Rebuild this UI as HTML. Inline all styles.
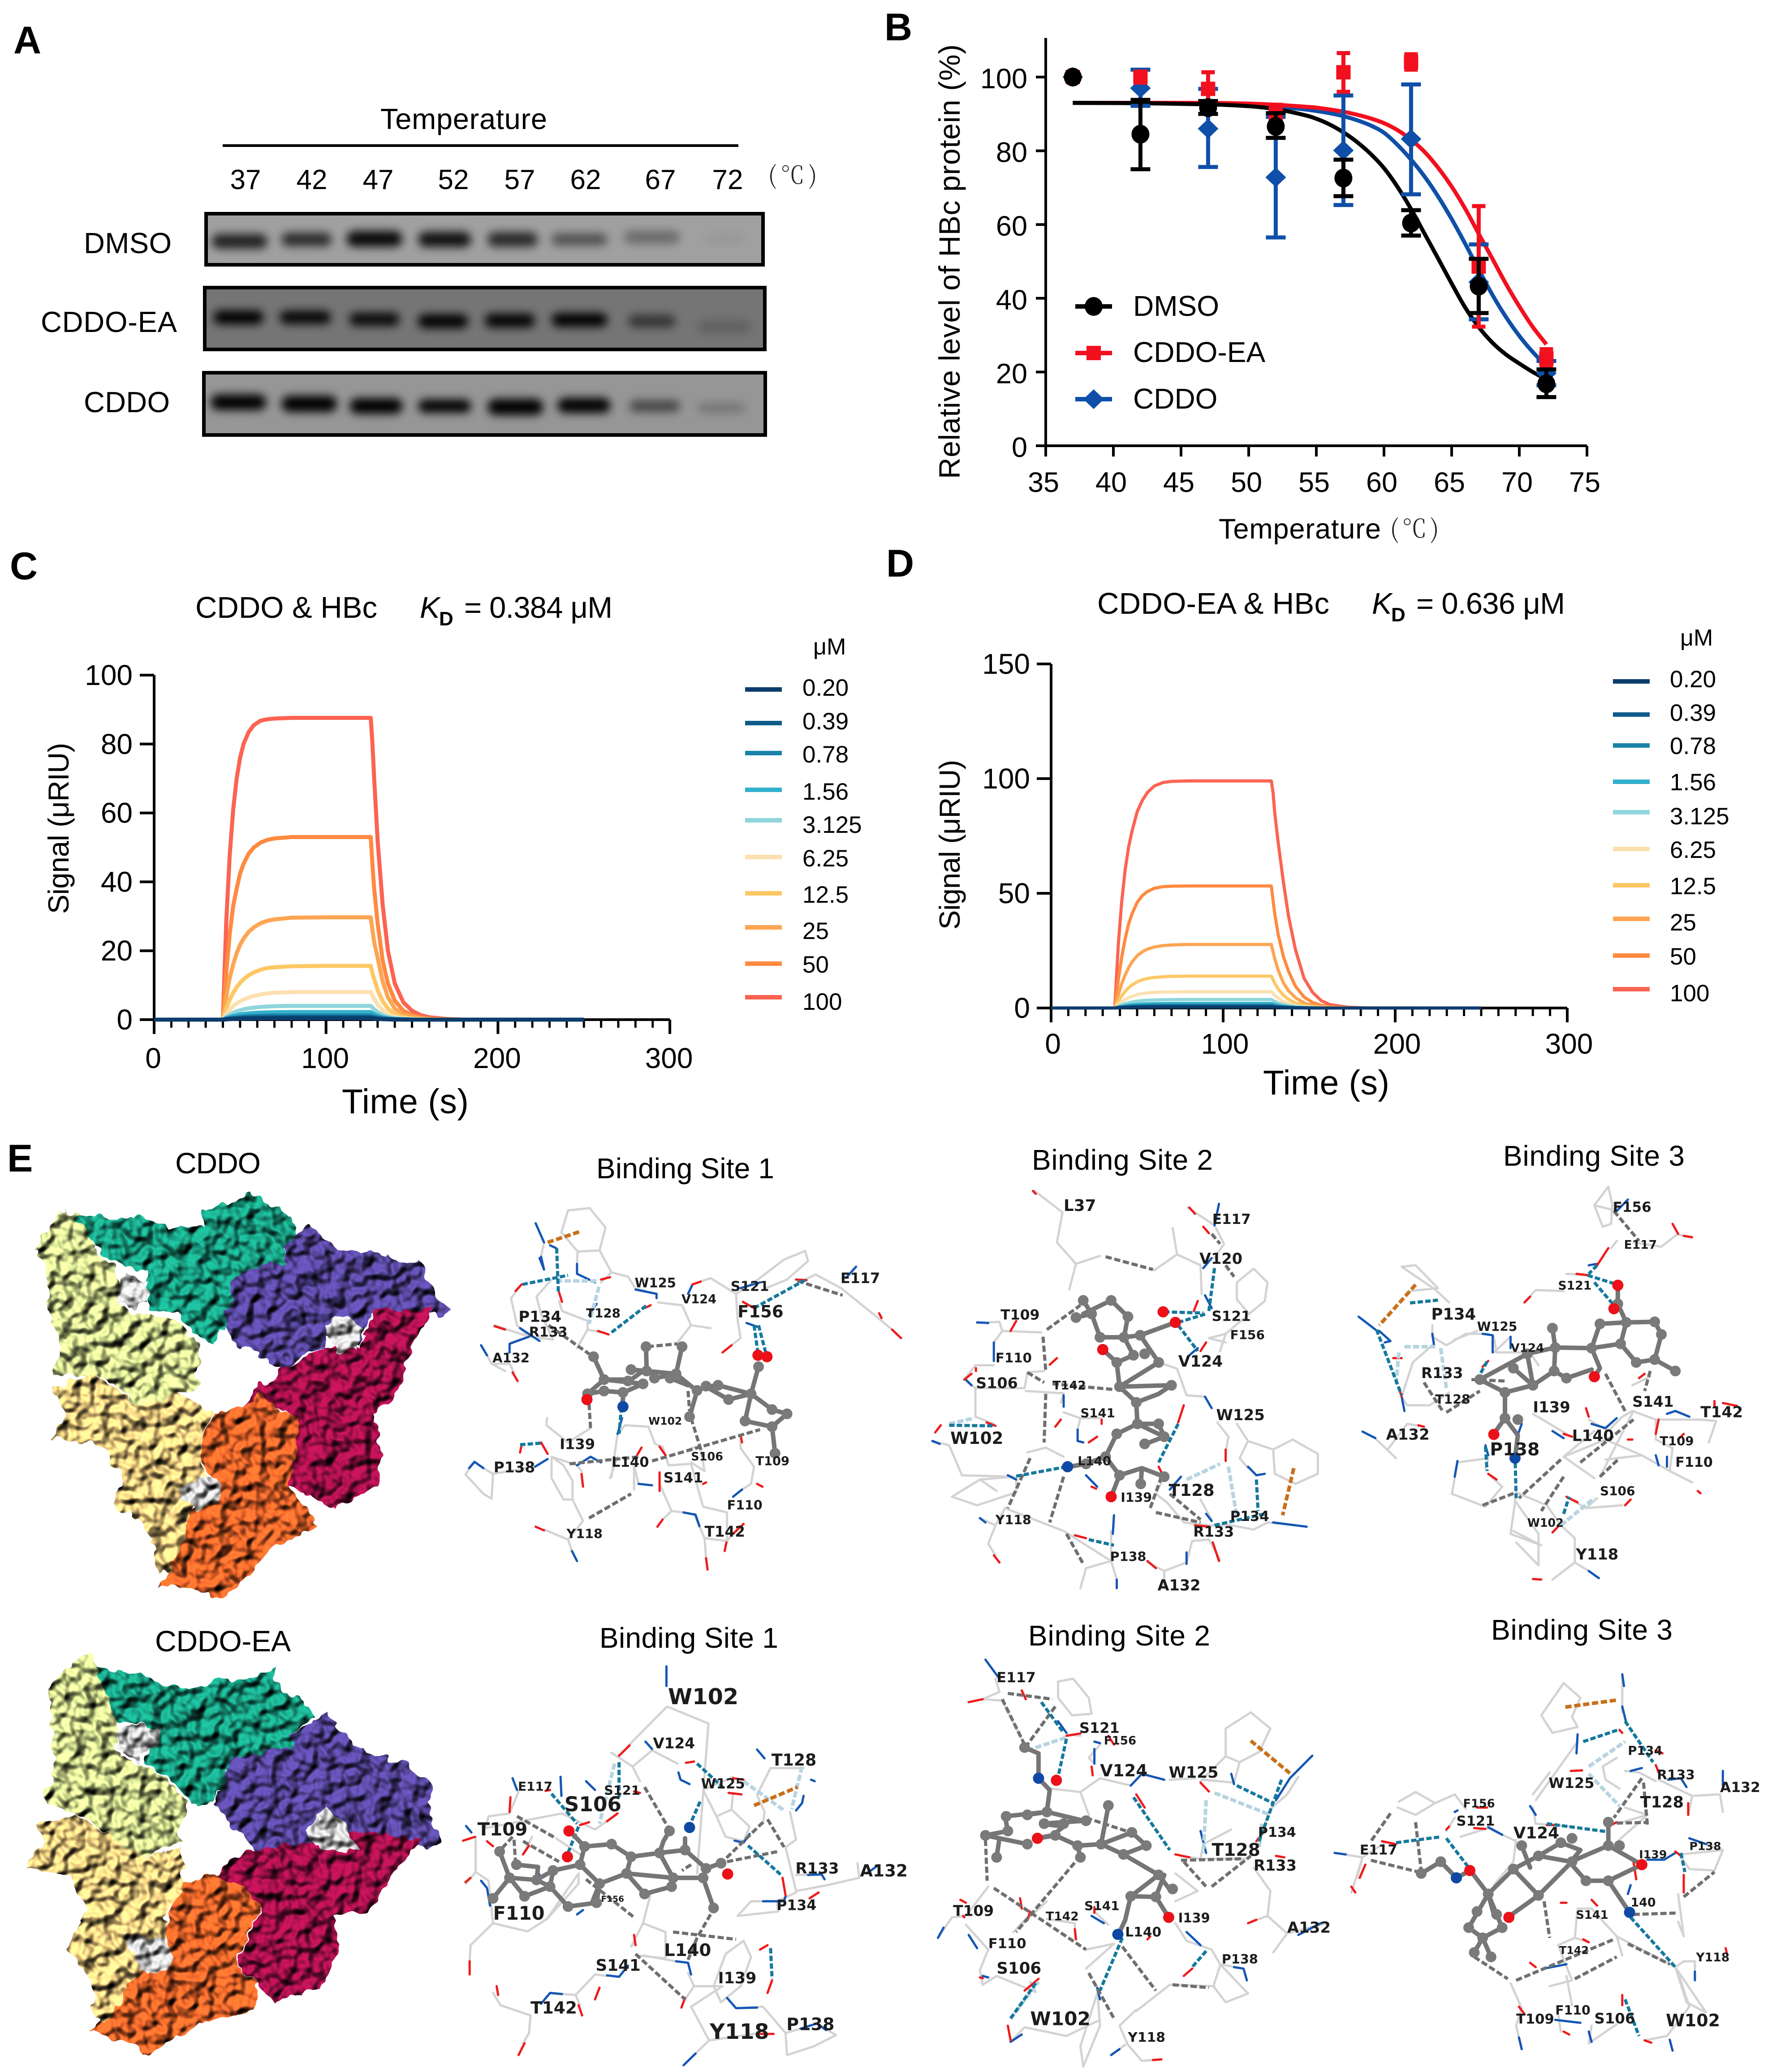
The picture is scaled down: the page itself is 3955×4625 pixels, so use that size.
<!DOCTYPE html>
<html lang="en">
<head>
<meta charset="utf-8">
<title>HBc binding figure</title>
<style>
html,body{margin:0;padding:0;background:#fff;}
svg{display:block;font-family:"Liberation Sans","Noto Sans CJK SC",sans-serif;}
.pl{font-weight:700;font-size:86px;fill:#000;}
.t{font-size:64px;fill:#000;}
.cj{font-family:"Noto Serif CJK SC","Liberation Serif",serif;font-weight:300;fill:#222;}
</style>
</head>
<body>
<svg id="fig" xmlns="http://www.w3.org/2000/svg" width="3955" height="4625" viewBox="0 0 3955 4625">
<defs>
<filter id="blur" x="-40%" y="-100%" width="180%" height="300%"><feGaussianBlur stdDeviation="10"/></filter>
<filter id="bumps" x="-6%" y="-6%" width="112%" height="112%" color-interpolation-filters="sRGB">
<feTurbulence type="fractalNoise" baseFrequency="0.034" numOctaves="2" seed="11" result="n"/>
<feDisplacementMap in="SourceGraphic" in2="n" scale="30" xChannelSelector="R" yChannelSelector="G" result="d"/>
<feGaussianBlur in="n" stdDeviation="3" result="nb"/>
<feDiffuseLighting in="nb" surfaceScale="26" lighting-color="#ffffff" result="l"><feDistantLight azimuth="235" elevation="58"/></feDiffuseLighting>
<feComposite in="l" in2="d" operator="arithmetic" k1="1.22" k2="0" k3="0" k4="0"/>
</filter>
</defs>
<rect width="3955" height="4625" fill="#fff"/>

<text class="pl" x="30" y="119">A</text>
<text class="pl" x="1974" y="90">B</text>
<text class="pl" x="22" y="1293">C</text>
<text class="pl" x="1978" y="1287">D</text>
<text class="pl" x="16" y="2615">E</text>

<text class="t" x="849" y="288" font-size="65" textLength="372" style="font-size:65px">Temperature</text>
<rect x="497" y="322" width="1151" height="6" fill="#000"/>
<text class="cj" x="1714" y="410" style="font-size:54px" textLength="110">( ℃ )</text>
<text class="t" x="187" y="565" style="font-size:65px" textLength="196">DMSO</text>
<text class="t" x="91" y="741" style="font-size:65px" textLength="304">CDDO-EA</text>
<text class="t" x="187" y="920" style="font-size:65px" textLength="192">CDDO</text>
<g id="blots"></g>

<g id="chartB"></g>
<text class="t" x="2720" y="1202" style="font-size:63px" textLength="362">Temperature</text>
<text class="cj" x="3102" y="1200" style="font-size:56px" textLength="110">( ℃ )</text>
<text class="t" transform="translate(2142,1069) rotate(-90)" style="font-size:66px" textLength="970">Relative level of HBc protein (%)</text>

<text class="t" x="436" y="1379" style="font-size:67px" textLength="406">CDDO &amp; HBc</text>
<text class="t" x="937" y="1379" style="font-size:67px;font-style:italic">K</text>
<text class="t" x="980" y="1396" style="font-size:44px;font-weight:700">D</text>
<text class="t" x="1036" y="1379" style="font-size:67px" textLength="331">= 0.384 μM</text>
<text class="t" transform="translate(153,2040) rotate(-90)" style="font-size:65px" textLength="382">Signal (μRIU)</text>
<text class="t" x="763" y="2485" style="font-size:77px" textLength="283">Time (s)</text>
<text class="t" x="1815" y="1461" style="font-size:52px">μM</text>
<g id="chartC"></g>

<text class="t" x="2449" y="1370" style="font-size:67px" textLength="518">CDDO-EA &amp; HBc</text>
<text class="t" x="3062" y="1370" style="font-size:67px;font-style:italic">K</text>
<text class="t" x="3105" y="1387" style="font-size:44px;font-weight:700">D</text>
<text class="t" x="3161" y="1370" style="font-size:67px" textLength="332">= 0.636 μM</text>
<text class="t" transform="translate(2142,2075) rotate(-90)" style="font-size:65px" textLength="379">Signal (μRIU)</text>
<text class="t" x="2819" y="2443" style="font-size:77px" textLength="282">Time (s)</text>
<text class="t" x="3750" y="1441" style="font-size:52px">μM</text>
<g id="chartD"></g>

<text class="t" x="391" y="2619" style="font-size:66px" textLength="191">CDDO</text>
<text class="t" x="346" y="3686" style="font-size:66px" textLength="303">CDDO-EA</text>
<g id="proteins"></g>
<g id="sites"></g>
<text class="t" x="1331" y="2630" textLength="397">Binding Site 1</text>
<text class="t" x="2303" y="2611" textLength="404">Binding Site 2</text>
<text class="t" x="3355" y="2602" textLength="405">Binding Site 3</text>
<text class="t" x="1338" y="3678" textLength="399">Binding Site 1</text>
<text class="t" x="2295" y="3673" textLength="406">Binding Site 2</text>
<text class="t" x="3328" y="3660" textLength="405">Binding Site 3</text>
</svg>

<script>
/* ---------- Panel B data ---------- */
const tempsB=[37,42,47,52,57,62,67,72];
const dmsoMean=[100,84.5,91.7,86.6,72.6,60.4,43.3,16.8];
const dmsoLow=[100,75,90,83.5,67.7,57,36,13.2];
const dmsoHigh=[100,93.8,93.5,90.2,77.6,63.9,50.7,20.7];
const eaMean=[100,100,96.8,90,101.3,104.1,48.6,23.7];
const eaLow=[100,98.5,92.5,88,96,102,32.3,21.2];
const eaHigh=[100,101.5,101.3,92.5,106.5,106.2,65,26.2];
const cddoMean=[100,97,86,72.8,80.1,83.2,44.4,19.7];
const cddoLow=[100,92.2,75.6,56.5,65.3,68.2,34.3,16.4];
const cddoHigh=[100,102,96.8,89.2,95,98,54.6,23];
const fitTemps=[37,42,47,50,52,54,55,56,57,58,59,60,61,62,63,64,65,66,67,68,69,70,71,72];
const fitDmso=[93,92.9,92.6,92.1,91.3,89.8,88.7,87.1,85,82.4,79.2,75.3,70.2,64.2,57.5,50.8,44,37.5,32.2,28,24.8,22.3,20,18];
const fitCddo=[93,93,92.8,92.5,92,91.3,90.8,90.2,89.4,88.3,86.9,84.9,81.6,77.6,73,67.6,61.5,54.8,47.8,41,35,29.8,25.4,21.7];
const fitEa=[93,93,93,92.8,92.5,92,91.7,91.2,90.6,89.8,88.8,87.5,85.6,83,79.7,75.4,70.3,64.3,57.5,50.8,44,37.8,32.2,27.5];
const ticksBx=[35,40,45,50,55,60,65,70,75];
const ticksBy=[0,20,40,60,80,100];

/* ---------- Panel C data ---------- */
const timeC=[0,40,42,44,46,48,50,52,55,58,62,66,70,80,100,126,127,128,130,133,136,140,145,150,155,160,170,180,250];
const c100=[0,0,29,48,61,70,76,80,83.5,85.5,86.8,87.2,87.4,87.6,87.6,87.6,80,70,52,33,20,10.5,5,2.6,1.3,.7,.2,0,0];
const c50=[0,0,14,25,33,38,42.4,45.2,48.2,50,51.4,52.2,52.6,53,53,53,45,38,28,17,10.5,5.5,2.6,1.3,.7,.3,.1,0,0];
const c25=[0,0,6.8,12.2,16,19.3,21.7,23.5,25.5,26.8,28,28.7,29.1,29.6,29.7,29.7,26,22.5,18,11,6.5,3.2,1.5,.8,.4,.2,0,0,0];
const c12p5=[0,0,3.3,5.8,7.8,9.4,10.7,11.7,12.9,13.7,14.5,15,15.2,15.5,15.6,15.6,13.5,11.8,8.6,5.3,3.2,1.6,.7,.35,.2,.1,0,0,0];
const c6p25=[0,0,1.6,2.9,3.9,4.7,5.3,5.8,6.4,6.9,7.3,7.6,7.8,8,8,8,7,6,4.4,2.7,1.6,.8,.35,.2,.1,0,0,0,0];
const c3p125=[0,0,.8,1.4,2,2.4,2.7,3,3.3,3.5,3.7,3.8,3.9,4,4,4,3.5,3,2.2,1.3,.8,.4,.2,.1,0,0,0,0,0];
const c1p56=[0,0,.45,.8,1.1,1.3,1.5,1.65,1.8,1.95,2.05,2.1,2.15,2.2,2.2,2.2,1.9,1.65,1.2,.7,.45,.2,.1,0,0,0,0,0,0];
const c0p78=[0,0,.25,.45,.6,.7,.8,.9,1,1.05,1.1,1.15,1.2,1.2,1.2,1.2,1.05,.9,.65,.4,.25,.1,.05,0,0,0,0,0,0];
const c0p39=[0,0,.15,.25,.35,.4,.47,.52,.58,.62,.65,.67,.68,.7,.7,.7,.6,.52,.38,.23,.14,.07,.03,0,0,0,0,0,0];
const c0p20=[0,0,.08,.15,.2,.24,.27,.3,.33,.35,.37,.38,.39,.4,.4,.4,.35,.3,.22,.13,.08,.04,.02,0,0,0,0,0,0];

/* ---------- Panel D data ---------- */
const timeD=[0,37,39,41,43,45,47,50,53,56,60,65,70,80,100,128,129,130,132,135,138,142,147,152,157,162,172,182,250];
const d100=[0,0,27,46,60,70,77,85.5,90.5,94,96.8,98.3,98.8,99,99,99,94,85,72,55,40,25.5,13,6.8,3.2,1.5,.4,.05,0];
const d50=[0,0,12,22,30,36.5,41,46,49,50.8,52.2,52.9,53.1,53.2,53.2,53.2,47,41,32,22.5,16,9.5,4.8,2.4,1.2,.5,.1,0,0];
const d25=[0,0,5.5,10.5,14.3,17.5,20,22.8,24.5,25.7,26.6,27.2,27.5,27.7,27.7,27.7,24.5,21.5,16.5,11,7.5,4.5,2.2,1.1,.5,.2,0,0,0];
const d12p5=[0,0,2.8,5.3,7.2,8.8,10,11.4,12.3,12.9,13.3,13.6,13.8,13.9,13.9,13.9,12.3,10.8,8.3,5.5,3.8,2.2,1.1,.5,.25,.1,0,0,0];
const d6p25=[0,0,1.4,2.7,3.7,4.5,5.1,5.8,6.3,6.6,6.8,7,7,7.1,7.1,7.1,6.3,5.5,4.2,2.8,1.9,1.1,.55,.25,.1,0,0,0,0];
const d3p125=[0,0,.7,1.4,1.9,2.3,2.6,3,3.25,3.4,3.5,3.6,3.65,3.7,3.7,3.7,3.3,2.9,2.2,1.5,1,.6,.3,.1,0,0,0,0,0];
const d1p56=[0,0,.4,.75,1,1.25,1.4,1.6,1.75,1.85,1.9,1.95,2,2,2,2,1.8,1.55,1.2,.8,.55,.3,.15,.05,0,0,0,0,0];
const d0p78=[0,0,.25,.45,.6,.75,.85,.95,1.05,1.1,1.15,1.18,1.2,1.2,1.2,1.2,1.05,.9,.7,.5,.33,.18,.09,.03,0,0,0,0,0];
const d0p39=[0,0,.15,.27,.35,.44,.5,.55,.6,.64,.67,.69,.7,.7,.7,.7,.62,.54,.41,.29,.19,.1,.05,.02,0,0,0,0,0];
const d0p20=[0,0,.08,.15,.2,.25,.28,.32,.35,.37,.38,.39,.4,.4,.4,.4,.35,.31,.24,.16,.11,.06,.03,.01,0,0,0,0,0];

const concLabels=['0.20','0.39','0.78','1.56','3.125','6.25','12.5','25','50','100'];
const concColors=['#0b3c6b','#0e5a8a','#1b82a8','#33b0cd','#8fd6dc','#fde0b0','#fdc864','#fda552','#fe8a40','#fc6352'];
const seriesC=[c0p20,c0p39,c0p78,c1p56,c3p125,c6p25,c12p5,c25,c50,c100];
const seriesD=[d0p20,d0p39,d0p78,d1p56,d3p125,d6p25,d12p5,d25,d50,d100];
const ticksCy=[0,20,40,60,80,100];
const ticksDy=[0,50,100,150];
const ticksTime=[0,100,200,300];

/* ---------- Panel A band strength per lane ---------- */
const laneLabels=['37','42','47','52','57','62','67','72'];
const bandDmso=[.8,.75,.95,.9,.75,.5,.34,.05];
const bandEa=[1,.95,.92,1,.97,1,.55,.16];
const bandCddo=[1,1,1,1,1,1,.55,.24];

const NS='http://www.w3.org/2000/svg';
function E(parent,tag,attrs,name){
  const el=document.createElementNS(NS,tag);
  for(const k in attrs){el.setAttribute(k,attrs[k]);}
  
  
  parent.appendChild(el);
  return el;
}
function Tx(parent,str,x,y,size,anchor,name,extra){
  const a=Object.assign({x:x,y:y,'font-size':size,'text-anchor':anchor||'start',fill:'#000'},extra||{});
  const el=E(parent,'text',a,name);
  el.textContent=str;
  return el;
}

/* ---------- Panel A ---------- */
(function(){
  const g=document.getElementById('blots');
  const lanePx=[548,696,844,1012,1160,1307,1474,1624];
  laneLabels.forEach((l,i)=>Tx(g,l,lanePx[i],422,62,'middle','lane-label-'+l));
  const blots=[
   {n:'dmso',x:456,y:473,w:1251,h:122,bg:'#a0a0a0',bands:bandDmso,
    cx:[430,550,672,798,920,1040,1170,1300],cy:[768,762,760,762,762,762,755,760],bw:[100,90,100,95,90,100,100,70],bh:[46,42,50,48,46,38,40,30]},
   {n:'cddo-ea',x:453,y:638,w:1258,h:146,bg:'#757575',bands:bandEa,
    cx:[428,548,672,795,915,1040,1170,1300],cy:[1010,1010,1016,1022,1020,1018,1022,1040],bw:[90,92,90,90,90,100,85,95],bh:[44,42,42,44,44,44,40,44]},
   {n:'cddo',x:451,y:828,w:1261,h:147,bg:'#969696',bands:bandCddo,
    cx:[428,555,675,798,925,1048,1175,1295],cy:[1280,1285,1292,1292,1295,1290,1292,1298],bw:[100,100,95,95,100,95,90,85],bh:[50,52,50,42,52,48,36,28]}
  ];
  blots.forEach((b,k)=>{
    E(g,'rect',{x:b.x,y:b.y,width:b.w,height:b.h,fill:b.bg},'blot-background-'+b.n);
    b.bands.forEach((v,i)=>{
      const w=b.bw[i]*1.2436,h=b.bh[i]*.7015,cx=b.cx[i]*1.2436,cy=b.cy[i]*.7015;
      E(g,'rect',{x:cx-w/2,y:cy-h/2,width:w,height:h,rx:h/2,fill:'#000',opacity:v,filter:'url(#blur)'},'band-'+b.n+'-'+laneLabels[i]);
    });
    E(g,'rect',{x:b.x+4,y:b.y+4,width:b.w-8,height:b.h-8,fill:'none',stroke:'#000','stroke-width':8},'blot-frame-'+b.n);
  });
})();

/* ---------- Panel B ---------- */
function xB(t){return 2334+(t-35)*30.2;}
function yB(v){return 995-v*8.23;}
function smooth(pts){
  let d='M'+pts[0][0]+' '+pts[0][1];
  for(let i=0;i<pts.length-1;i++){
    const p0=pts[Math.max(i-1,0)],p1=pts[i],p2=pts[i+1],p3=pts[Math.min(i+2,pts.length-1)];
    d+=' C'+(p1[0]+(p2[0]-p0[0])/6)+' '+(p1[1]+(p2[1]-p0[1])/6)+' '+(p2[0]-(p3[0]-p1[0])/6)+' '+(p2[1]-(p3[1]-p1[1])/6)+' '+p2[0]+' '+p2[1];
  }
  return d;
}
function marker(g,kind,x,y,color,name){
  if(kind==='circle'){E(g,'ellipse',{cx:x,cy:y,rx:20,ry:21,fill:color},name);}
  else if(kind==='square'){E(g,'rect',{x:x-16,y:y-16,width:32,height:32,fill:color},name);}
  else{E(g,'polygon',{points:(x-23)+','+y+' '+x+','+(y-22)+' '+(x+23)+','+y+' '+x+','+(y+22),fill:color},name);}
}
(function(){
  const g=document.getElementById('chartB');
  E(g,'path',{d:'M'+xB(35)+' '+yB(110.6)+'V'+yB(0)+'H'+xB(75),fill:'none',stroke:'#000','stroke-width':6},'axes-b');
  ticksBx.forEach(t=>{
    E(g,'line',{x1:xB(t),x2:xB(t),y1:yB(0),y2:yB(0)+24,stroke:'#000','stroke-width':6},'x-tick-'+t);
    Tx(g,String(t),xB(t)-5,1098,63,'middle','x-tick-label-'+t);
  });
  ticksBy.forEach(v=>{
    E(g,'line',{x1:xB(35),x2:xB(35)-22,y1:yB(v),y2:yB(v),stroke:'#000','stroke-width':6},'y-tick-'+v);
    Tx(g,String(v),2293,yB(v)+25,63,'end','y-tick-label-'+v);
  });
  const groups=[
   {n:'cddo',c:'#0f4fa8',k:'diamond',cap:22,fit:fitCddo,m:cddoMean,lo:cddoLow,hi:cddoHigh},
   {n:'cddo-ea',c:'#f2101f',k:'square',cap:15,fit:fitEa,m:eaMean,lo:eaLow,hi:eaHigh},
   {n:'dmso',c:'#000000',k:'circle',cap:22,fit:fitDmso,m:dmsoMean,lo:dmsoLow,hi:dmsoHigh}
  ];
  groups.forEach(s=>{
    const pts=fitTemps.map((t,i)=>[xB(t),yB(s.fit[i])]);
    E(g,'path',{d:smooth(pts),fill:'none',stroke:s.c,'stroke-width':9},'fit-curve-'+s.n);
  });
  groups.forEach(s=>{
    tempsB.forEach((t,i)=>{
      const x=xB(t);
      if(s.hi[i]!==s.lo[i]){
        E(g,'path',{d:'M'+(x-s.cap)+' '+yB(s.hi[i])+'H'+(x+s.cap)+'M'+x+' '+yB(s.hi[i])+'V'+yB(s.lo[i])+'M'+(x-s.cap)+' '+yB(s.lo[i])+'H'+(x+s.cap),fill:'none',stroke:s.c,'stroke-width':9},'error-bar-'+s.n+'-'+t);
      }
      marker(g,s.k,x,yB(s.m[i]),s.c,'point-'+s.n+'-'+t);
    });
  });
  const lg=[['DMSO','#000','circle',684,705],['CDDO-EA','#f2101f','square',788,808],['CDDO','#0f4fa8','diamond',891,912]];
  lg.forEach(r=>{
    E(g,'rect',{x:2400,y:r[3]-5,width:82,height:10,fill:r[1]},'legend-line-'+r[0].toLowerCase());
    marker(g,r[2],2441,r[3],r[1],'legend-marker-'+r[0].toLowerCase());
    Tx(g,r[0],2529,r[4],64,'start','legend-label-'+r[0].toLowerCase());
  });
})();

/* ---------- Panels C and D ---------- */
function drawSpr(id,cfg,times,series,yTicks){
  const g=document.getElementById(id);
  const x=t=>cfg.x0+t*cfg.pxPerS;
  const y=v=>cfg.y0-v*cfg.pxPerU;
  E(g,'path',{d:'M'+x(0)+' '+y(cfg.ymax)+'V'+y(0)+'H'+x(300),fill:'none',stroke:'#000','stroke-width':6},id+'-axes');
  for(let t=0;t<=300;t+=10){
    const major=t%100===0;
    E(g,'line',{x1:x(t),x2:x(t),y1:y(0),y2:y(0)+(major?32:18),stroke:'#000','stroke-width':major?6:5},id+'-x-tick-'+t);
  }
  ticksTime.forEach(t=>{Tx(g,String(t),x(t)+cfg.xLabelDx,cfg.xLabelY,64,'middle',id+'-x-tick-label-'+t);});
  yTicks.forEach(v=>{
    E(g,'line',{x1:x(0),x2:x(0)-32,y1:y(v),y2:y(v),stroke:'#000','stroke-width':6},id+'-y-tick-'+v);
    Tx(g,String(v),cfg.yLabelX,y(v)+22,64,'end',id+'-y-tick-label-'+v);
  });
  for(let s=series.length-1;s>=0;s--){
    const vals=series[s];
    const d=times.map((t,i)=>(i?'L':'M')+x(t)+' '+y(vals[i])).join(' ');
    E(g,'path',{d:d,fill:'none',stroke:concColors[s],'stroke-width':cfg.lw,'stroke-linejoin':'round'},id+'-curve-'+concLabels[s]);
  }
  concLabels.forEach((l,i)=>{
    E(g,'rect',{x:cfg.lgX,y:cfg.lgY[i]-5,width:82,height:10,fill:concColors[i]},id+'-legend-line-'+l);
    Tx(g,l,cfg.lgTx,cfg.lgBase[i],53,'start',id+'-legend-label-'+l);
  });
}
drawSpr('chartC',{x0:344,pxPerS:3.837,y0:2276,pxPerU:7.69,ymax:100,xLabelDx:-2,xLabelY:2384,yLabelX:296,lw:9,lgX:1663,lgTx:1791,
  lgY:[1539,1614,1681,1763,1831,1913,1994,2070,2151,2226],lgBase:[1553,1628,1702,1785,1859,1934,2015,2096,2171,2254]},timeC,seriesC,ticksCy);
drawSpr('chartD',{x0:2346,pxPerS:3.84,y0:2250,pxPerU:5.12,ymax:150,xLabelDx:4,xLabelY:2352,yLabelX:2299,lw:7,lgX:3600,lgTx:3727,
  lgY:[1521,1595,1664,1745,1813,1895,1976,2051,2133,2208],lgBase:[1534,1609,1683,1764,1840,1915,1996,2077,2153,2235]},timeD,seriesD,ticksDy);

/* ---------- Protein surfaces ---------- */
(function(){
  const g=E(document.getElementById('proteins'),'g',{filter:'url(#bumps)'},'protein-surface-group');
  const m=s=>s.trim().split(/\s+/).map(p=>{const a=p.split(',');return (a[0]*.7015).toFixed(1)+','+(2500+a[1]*1.355).toFixed(1);}).join(' ');
  const P={
   'green':'#d8e494','teal':'#1aa588','purple':'#5a49a2','crimson':'#ab114e','orange':'#f56a2c','sand':'#f8d686','grey':'#cfcfcf'
  };
  const top=[
   ['green','110,210 190,150 250,155 300,215 370,240 380,310 470,320 560,330 640,370 620,430 650,430 520,460 440,470 330,420 160,420 195,380 150,290 145,235'],
   ['teal','245,160 330,160 480,160 540,180 640,175 650,150 770,130 800,118 830,130 940,165 940,190 900,210 915,235 860,235 760,260 740,300 720,330 720,345 690,345 680,370 640,360 560,320 480,310 470,290 470,250 370,235 300,210'],
   ['purple','900,205 985,175 1080,215 1180,215 1290,235 1340,225 1360,265 1425,310 1410,325 1380,320 1180,320 1150,370 1040,360 1030,375 950,390 900,410 860,400 790,375 770,385 740,360 715,330 745,260 850,235 915,235'],
   ['crimson','1190,315 1370,310 1310,380 1270,450 1180,480 1210,530 1210,560 1195,605 1090,630 1060,640 1000,620 915,600 945,520 945,490 880,475 770,470 850,430 910,405 1030,375 1150,375'],
   ['orange','770,470 830,450 890,480 950,490 940,555 920,605 1010,670 880,700 760,770 700,790 620,770 500,770 540,740 590,690 600,650 690,610 640,550 670,490'],
   ['sand','170,445 300,415 440,470 560,450 640,470 670,480 640,550 660,590 600,650 590,690 540,745 500,745 490,690 420,650 355,635 390,590 330,535 170,525 210,490'],
   ['grey','365,270 400,250 480,270 470,300 410,310 380,300'],
   ['grey','1025,345 1070,320 1165,340 1130,380 1090,385'],
   ['grey','560,610 610,590 695,590 695,625 620,650']
  ];
  const bottom=[
   ['green','150,935 230,895 290,875 310,905 370,990 380,1050 520,1080 600,1125 570,1170 580,1190 450,1215 350,1180 270,1150 130,1120 175,1085 165,1000 155,950'],
   ['teal','300,900 440,915 600,940 700,925 800,915 870,905 900,945 985,960 990,985 930,1010 930,1035 800,1050 720,1075 740,1080 680,1120 620,1130 530,1080 460,1060 510,1000 370,990'],
   ['purple','930,1010 1040,975 1150,1040 1300,1060 1370,1095 1370,1140 1405,1190 1370,1200 1130,1175 1000,1190 830,1205 800,1195 720,1150 685,1125 750,1050 930,1035'],
   ['crimson','1145,1170 1345,1185 1250,1240 1170,1305 1060,1310 1080,1360 1020,1430 870,1455 810,1420 755,1385 830,1300 680,1245 780,1205 970,1190'],
   ['orange','680,1245 770,1260 830,1295 750,1385 810,1420 815,1465 640,1490 460,1540 410,1520 290,1500 400,1440 430,1410 520,1360 540,1300 570,1255'],
   ['sand','120,1160 240,1145 350,1180 450,1215 580,1200 580,1260 520,1310 540,1350 430,1410 400,1440 340,1490 300,1480 295,1420 210,1365 280,1300 230,1250 90,1230 135,1195'],
   ['grey','372,1010 420,995 510,1000 510,1025 460,1040 440,1060 390,1045'],
   ['grey','970,1170 1040,1130 1090,1155 1140,1200 1020,1205'],
   ['grey','400,1345 440,1345 540,1350 545,1390 470,1405 420,1380']
  ];
  top.forEach((r,i)=>{E(g,'polygon',{points:m(r[1]),fill:P[r[0]]},'cddo-protein-chain-'+r[0]+'-'+i);});
  bottom.forEach((r,i)=>{E(g,'polygon',{points:m(r[1]),fill:P[r[0]]},'cddo-ea-protein-chain-'+r[0]+'-'+i);});
})();

/* ---------- Binding-site interaction diagrams ---------- */
const EM={W:1.103,V:.774,S:.72,E:.683,T:.682,F:.683,P:.733,R:.77,A:.774,I:.372,L:.637,Y:.724};
function drawSite(name,ox,oy,sx,sy,d){
  const g=E(document.getElementById('sites'),'g',{},name);
  const path=s=>s.split(';').map(poly=>poly.trim().split(/\s+/).map((p,i)=>{
    const a=p.split(',');return (i?'L':'M')+(ox+a[0]*sx).toFixed(1)+' '+(oy+a[1]*sy).toFixed(1);}).join('')).join('');
  const draw=(s,stroke,w,dash,n)=>{
    if(!s)return;
    const at={d:path(s),fill:'none',stroke:stroke,'stroke-width':w,'stroke-linecap':dash?'butt':'round','stroke-linejoin':'round'};
    if(dash){at['stroke-dasharray']=dash;}
    E(g,'path',at,name+'-'+n);
  };
  draw(d.gray,'#d3d3d3',5,null,'residue-bonds');
  draw(d.blue,'#1457b4',5,null,'nitrogen-bonds');
  draw(d.red,'#ee1c1c',5,null,'oxygen-bonds');
  draw(d.dg,'#6f6f6f',7,'14 6','hydrophobic-contacts');
  draw(d.lt,'#b8d4e0',8,'14 5','weak-hbonds');
  draw(d.tl,'#15799c',7,'12 5','hydrogen-bonds');
  draw(d.or,'#c8701a',8,'14 6','pi-contact');
  draw(d.lig,'#757575',10,null,'ligand-bonds');
  const balls=(s,c,r,n)=>{
    s.trim().split(/\s+/).forEach((p,i)=>{
      const a=p.split(',');
      E(g,'circle',{cx:ox+a[0]*sx,cy:oy+a[1]*sy,r:r,fill:c},name+'-'+n+'-atom-'+i);
    });
  };
  balls(d.balls,'#7a7a7a',12,'carbon');
  balls(d.redB,'#ec1018',12.5,'oxygen');
  balls(d.blueB,'#0f49a3',12.5,'nitrogen');
  d.labels.forEach(l=>{
    const w=(l[2]-l[1])*sx;
    let em=0;
    for(const ch of l[0]){em+=EM[ch]||.696;}
    const el=E(g,'text',{x:ox+l[1]*sx,y:oy+l[3]*sy,'font-size':(w/em).toFixed(1),'font-weight':'700','font-family':'"DejaVu Sans",sans-serif',fill:'#1c1c1c',textLength:w.toFixed(1)},name+'-label-'+l[0]);
    el.textContent=l[0];
  });
}

drawSite('cddo-site-1',1000,2550,.6696,.6378,{
 gray:'400,238 472,230 525,298 505,378 432,382 378,315 400,238;505,378 545,455 600,470 625,512 660,520;432,382 430,425;320,350 310,400;345,480 295,540 310,600 350,690 270,680 230,640 210,545 245,497;380,590 465,625 465,655 430,720;380,590 370,555;465,655 510,665;545,455 510,490;700,560 780,570 810,640 765,700;810,640 875,650;815,497 875,475 960,530 965,620 975,685 945,710;960,530 1020,490 1120,410 1190,380 1200,415 1130,480 1060,510;1190,480 1225,462 1310,510 1440,620 1480,655;155,640 270,680;210,700 270,680;130,745 145,775 190,800;145,775 205,775 220,805;330,965 328,990 400,1050 475,1000;58,1162 88,1118;58,1162 118,1230 145,1247 150,1160 118,1140;150,1160 290,1135;345,1100 430,1130 445,1150;345,1100 385,1130 415,1185 415,1250 450,1325;345,1100 345,1175 385,1250 415,1250;450,1325 400,1390 320,1355;400,1390 413,1430;565,1020 590,990 668,995 690,1055 715,1065;565,1020 545,1170 540,1175 565,1100;715,1065 735,1130 810,1125 850,1275 930,1295 930,1395 855,1385 820,1300;800,1075 840,1060 855,1150 810,1120;620,1130 620,1215;620,1130 635,1195;705,1195 745,1290 715,1320;745,1290 785,1295;855,1385 860,1455;930,1395 950,1370;975,1040 975,1070 1020,1135 1010,1195 980,1215',
 blue:'292,283 320,350;340,360 360,370;310,400 320,445 305,405;430,425 430,460 490,490;625,515 695,530 695,545;815,497 800,530;1040,490 975,510;995,632 1030,645;1360,435 1330,470;495,565 470,605;270,680 205,705 205,735;240,650 305,695;110,710 130,745;70,1140 88,1118 118,1140;290,1135 332,1108;430,1130 475,1100 510,1120;635,1195 680,1200;785,1295 825,1303 838,1343;413,1430 430,1465;950,1240 980,1215;565,1020 580,965',
 red:'225,520 245,497;370,525 380,558;510,480 540,472;500,660 535,672;655,580 675,570;815,497 842,487;983,558 1020,580;915,735 945,710;1160,480 1195,482;1437,598 1445,615;1480,655 1510,685;155,643 190,655;215,805 232,835;240,1085 245,1060;310,1050 332,1090;445,1160 450,1205;630,1095 645,1068;705,1065 725,1095;705,1155 705,1220;715,1320 698,1345;975,1025 980,1050;860,1190 850,1195;1030,1195 1048,1205;292,1345 320,1358;860,1455 865,1495;985,1335 950,1370;928,1400 922,1430',
 tl:'248,497 400,465;362,370 368,530;660,572 545,665;1020,580 1190,482;1020,640 1032,730;1035,640 1060,740;580,900 570,1020;240,1058 315,1052',
 lt:'360,485 500,485;503,505 470,635',
 dg:'665,715 765,705;335,640 470,740;470,915 475,1000;1165,485 1315,535;800,870 805,940;810,965 850,1100;405,1125 640,1100;680,1115 1040,1005;470,1315 610,1230',
 or:'332,350 440,312',
 lig:'485,750 520,830;520,830 610,830 650,800 610,795 660,800 760,810 830,870 860,855 900,850 1010,880;520,830 465,880 520,870 585,875 650,845 520,830;660,715 662,800;780,715 760,810;690,825 760,810;740,825 800,850;830,870 805,960;860,855 935,900 1010,880 990,975 1080,995 1130,950 1080,935 1010,880;1080,995 1090,1088;1010,880 1035,785;583,875 583,925;463,880 463,900',
 balls:'485,750 660,715 780,715 520,830 610,795 662,800 688,825 760,810 740,825 600,835 650,845 520,870 465,880 583,875 830,868 860,853 900,850 935,900 1010,880 1035,785 805,960 990,975 1080,995 1130,950 1080,935 1090,1088',
 redB:'1033,745 1063,750 463,900',blueB:'583,925',
 labels:[['W125',622,760,507],['V124',778,895,563],['S121',942,1070,520],['F156',965,1118,612],['E117',1308,1440,492],['T128',460,575,612],['P134',235,378,628],['R133',270,398,680],['A132',148,272,770],['W102',668,780,988],['S106',810,917,1113],['I139',372,490,1073],['T109',1025,1138,1130],['L140',545,670,1135],['P138',152,290,1155],['S141',718,850,1190],['F110',930,1048,1285],['T142',855,990,1380],['Y118',395,515,1385]]
});

drawSite('cddo-site-2',2000,2550,1.2468,.6378,{
 gray:'248,170 298,245 288,350 322,425 365,397;322,425 310,515;462,448 503,392 495,300;503,392 545,430 547,530;522,228 570,290 587,355 570,405;640,442 665,490 660,555 632,600 610,550 610,490 640,442;632,600 590,670 560,685 590,700;590,670 580,730;503,792 520,885 553,890;503,792 470,770 445,690;145,632 185,628 190,660 260,665;190,660 175,700;175,780 142,780 122,830 142,860 142,960 175,985;142,860 230,860;230,860 235,805 265,800;232,870 300,878 295,910;300,945 330,965 365,965;330,965 325,1005;65,1045 95,1060 118,1165 210,1170 150,1180 100,1240 145,1270 215,1225 215,1170;150,1180 180,1220;268,1068 300,1100;268,1068 235,1085;150,1315 178,1340 165,1405 178,1445;178,1340 195,1280 300,1360;385,1465 340,1490 330,1560;385,1465 395,1530;385,1360 385,1465;385,1465 300,1360;575,980 595,1030 590,1085;610,985 630,1045 675,1075 710,1040 755,1090 755,1160 715,1195 678,1160 675,1075;630,1045 615,1105 630,1140;590,1085 590,1115;480,1170 465,1230 485,1260 515,1330 560,1340 600,1340 640,1355 665,1330 735,1345;545,1250 565,1320;530,1395 560,1390 580,1460;530,1395 520,1470 480,1500 450,1470;480,1500 480,1560',
 blue:'145,630 165,632;175,700 175,765;125,830 135,850;65,1045 78,1055;300,885 300,925;325,1005 325,1045 335,1050;150,1315 160,1330;200,1165 215,1180;340,1165 360,1205;390,1305 388,1370;395,1530 395,1560;510,1170 490,1215;553,890 565,930;630,1135 645,1165 660,1160;555,1300 565,1325;675,1330 735,1345;520,1435 520,1475;578,215 570,290;565,405 550,440;553,535 565,580;540,720 525,745',
 red:'245,170 250,180;525,228 535,250;550,295 560,318;215,625 205,660;288,755 275,778;143,790 143,800;135,810 122,830;285,995 295,970;368,970 368,985;360,1030 345,1050;80,990 70,1015;162,980 178,992;350,1205 358,1212;175,1445 185,1470;450,1465 465,1490;567,1400 578,1465;535,1340 560,1345;590,1075 590,1115;515,920 505,980;470,1135 480,1175;555,700 545,730;540,555 533,590;340,1385 320,1375',
 tl:'480,593 550,597;505,630 555,600;505,640 540,730;570,440 560,590;505,985 470,1120;215,1168 305,1135;345,1390 390,1410;95,990 175,992;645,1180 648,1290;570,1340 660,1300',
 lt:'95,985 140,965;520,1180 580,1125;595,1135 610,1310',
 dg:'375,400 460,445;270,655 330,570;263,680 268,800;235,805 265,840;268,880 265,1050;240,1105 200,1280;300,1170 275,1330;305,1370 335,1475;280,845 390,865;475,1170 455,1280;465,1295 545,1330;490,1230 545,1320;565,320 580,355;590,430 605,470',
 or:'712,1140 692,1305',
 lig:'335,553 350,600 322,613;350,600 365,682 408,682 415,610 385,553 335,600;408,682 437,675 500,630;437,675 470,770;408,682 425,745 395,770 370,725;395,770 400,855 430,910 470,880 493,850;430,910 432,985 470,985;432,985 395,1020 375,1100;432,985 480,1030 440,1060;470,985 480,1030;375,1100 400,1165 385,1240;400,1165 440,1140 480,1170;440,1140 438,1195;375,1100 340,1125 310,1135;470,770 400,855 490,850',
 balls:'335,553 385,553 322,613 350,600 415,610 365,682 408,682 437,675 425,745 395,770 400,855 430,910 493,850 470,985 432,985 480,1030 395,1020 375,1100 340,1125 400,1165 480,1170 438,1195 445,740 470,770 445,1055',
 redB:'478,593 500,630 370,725 385,1240',blueB:'307,1135',
 labels:[['L37',300,358,240],['E117',566,635,285],['V120',543,620,425],['T109',187,257,620],['S121',565,635,625],['F156',598,660,688],['V124',505,585,785],['F110',178,243,770],['S106',143,218,860],['T142',280,340,865],['S141',330,392,962],['W125',573,660,972],['W102',97,192,1055],['L140',325,385,1130],['I139',402,458,1258],['T128',488,570,1237],['Y118',178,242,1337],['P134',598,668,1325],['R133',532,605,1380],['P138',383,448,1465],['A132',468,545,1568]]
});

drawSite('cddo-site-3',2000,2550,1.2468,.6378,{
 gray:'1275,155 1250,220 1265,295 1280,285 1282,215 1275,155;1250,220 1290,240;1320,350 1370,365 1398,322 1425,332;1280,370 1290,345;1200,460 1240,465;1125,560 1145,517 1195,520;905,435 965,515 990,560;905,435 930,430 970,510 920,520;1000,690 1040,660;960,640 960,680 985,710 1020,670 1060,670;1070,680 1075,735 1135,735 1150,780;1070,735 1100,680;905,890 915,920 955,920 990,875;905,890 925,770 960,710;860,1040 895,1105;880,1075 915,985 945,995;1140,950 1200,1020;1240,970 1275,1010 1300,960 1318,940 1360,970 1440,970 1468,975 1455,1050;1320,940 1260,1170;1318,850 1350,820;1250,1010 1195,1100 1250,1175;1195,1100 1270,1040 1335,1095 1270,1110;1360,970 1360,1040;1335,1095 1385,1150 1425,1190;1385,1150 1390,1070 1360,1040;1005,1120 995,1230 1055,1275 1085,1205 1060,1160;1005,1120 1060,1105;1060,1105 1055,1140;1110,1230 1100,1370 1155,1410 1105,1360;1110,1260 1150,1370 1150,1480 1110,1400;1110,1225 1165,1270 1190,1340;1190,1340 1215,1385 1215,1470 1175,1530;1215,1470 1240,1500;1200,1240 1235,1280 1255,1245;1235,1280 1300,1270',
 blue:'828,610 858,655;865,660 885,695 875,700;1050,670 1068,675 1068,735;960,670 963,710;905,890 910,940;835,1012 858,1035;1100,680 1100,720;1175,1010 1195,1035;1290,965 1270,1000 1245,985;1005,1115 1000,1170;1360,1095 1365,1130;1380,1100 1380,1135;1380,950 1395,940 1420,960;1240,1500 1258,1525;1310,200 1290,240;1240,430 1255,425;1120,985 1110,1040;1055,1060 1060,1095',
 red:'1390,285 1400,320;1425,332 1410,327;1275,370 1255,430;1240,465 1218,460;1125,560 1135,540;1050,785 1060,765;905,755 890,755;905,890 900,860;945,995 935,990;1235,930 1240,960;1310,1040 1318,1040;1360,1020 1365,970;1340,810 1330,825;1195,1020 1210,1030;1060,1160 1075,1180;1200,1240 1220,1260;1315,1250 1305,1270;1185,1345 1175,1365;1140,1528 1155,1530;1465,905 1465,925;1480,912 1505,922;1400,1040 1410,1020;1435,1220 1440,1228',
 tl:'1238,465 1290,497;1250,490 1285,570;1255,430 1240,460;920,562 970,552;860,655 905,885;1040,830 1060,760;1108,1095 1110,1245;1055,1065 1058,1150;1195,1300 1205,1240',
 lt:'910,715 965,715;900,735 895,850;975,720 985,860;1190,1340 1250,1245',
 dg:'1285,240 1330,345;1030,830 1090,835;945,840 980,945;985,945 1045,870;1270,810 1305,940;1350,800 1340,870;1050,1270 1110,1225;1225,1120 1320,970;1190,1110 1115,1245;1195,1170 1155,1290;1260,1170 1295,1105',
 or:'930,498 865,640',
 lig:'1292,500 1292,565 1307,630;1307,630 1358,628 1370,672 1358,760 1395,800;1358,760 1325,770 1297,705 1307,630;1307,630 1260,635 1245,720;1297,705 1245,720;1245,720 1180,718 1175,650;1180,718 1130,740 1045,830;1180,718 1178,800;1245,720 1260,790 1250,820;1178,800 1200,825 1245,795;1130,740 1140,850;1045,830 1090,875;1090,875 1140,850 1178,800;1090,875 1090,965 1113,1025 1108,1105;1090,965 1070,1020;1105,790 1140,850',
 balls:'1175,650 1307,630 1260,635 1358,628 1370,672 1358,760 1395,800 1325,770 1297,705 1245,720 1180,718 1130,740 1045,830 1090,875 1140,850 1178,800 1200,825 1090,965 1113,970 1105,790 1292,565',
 redB:'1292,500 1285,582 1250,820 1070,1022',blueB:'1108,1105',
 labels:[['F156',1283,1352,243],['E117',1303,1362,372],['S121',1185,1245,515],['P134',958,1038,620],['W125',1040,1112,660],['V124',1100,1160,733],['R133',940,1015,825],['T128',965,1028,915],['S141',1318,1392,925],['I139',1140,1207,945],['T142',1440,1516,962],['A132',877,955,1040],['L140',1210,1285,1045],['T109',1367,1428,1060],['P138',1063,1152,1095],['F110',1395,1462,1135],['S106',1260,1323,1235],['W102',1130,1195,1345],['Y118',1217,1293,1460]]
});

drawSite('cddo-ea-site-1',1000,3600,.6696,.6537,{
 gray:'730,320 868,378 830,890;730,320 600,455;545,478 615,525 680,470;615,525 640,575;680,470 765,515;850,605 895,695 945,672 1005,730 985,780;895,695 925,765 985,780;950,615 945,672;950,560 850,605;1030,622 1075,530 1185,530;1030,622 1055,680 1050,720;1125,800 1160,775 1140,680;1125,800 1160,950 1265,930 1370,905 1365,855;1160,895 1240,895;965,1035 1010,985 1095,985 1100,1020 965,1035;1095,985 1160,955;135,695 205,685 235,610;135,695 125,735 380,685;380,685 490,740 560,690;92,765 92,885 135,915;92,885 60,925;135,915 150,1060 265,1088 330,1045 435,890 435,925 330,1045;150,1060 75,1135 72,1190;360,770 440,825;280,765 250,825;675,960 650,1060 725,1090 725,1180 630,1170;650,1060 610,1140 620,1130;760,1190 650,1170;800,1230 820,1275 915,1275 820,1275 790,1320;985,1120 1010,1175 975,1275 910,1330 885,1275 925,1165 985,1120;915,1275 810,1345 870,1460 1040,1435;870,1460 825,1505;1050,1345 1125,1435 1130,1510 1220,1480 1293,1442 1240,1410;1125,1435 1175,1420;1050,1345 1000,1348;490,1235 425,1305 340,1298;425,1305 440,1340;490,1235 530,1240;275,1375 175,1340 150,1298;275,1375 270,1435 250,1470',
 blue:'728,183 728,250;658,440 680,465;768,545 775,570 805,585;215,565 230,605;375,560 378,625;460,575 490,605;60,728 78,750;110,915 130,940 140,1000;430,1030 450,1015;300,885 305,895;1030,467 1055,497;1185,625 1180,650 1160,675;1210,570 1222,575;955,778 985,785 1005,755;1050,985 1120,985 1125,968;1200,895 1245,893 1255,910;1395,890 1430,865;530,1238 570,1243 600,1205;760,1190 800,1195 810,1235;930,1315 960,1350 1030,1348;310,1335 340,1298 380,1302;1175,1420 1230,1402 1260,1425;785,1545 825,1505',
 red:'570,488 605,453;793,512 820,508;325,608 340,605;208,630 205,680;50,778 90,765;130,780 150,797;440,725 470,715;530,712 565,685;250,825 270,795;58,920 75,905;72,1190 72,1235;620,610 640,615;935,615 978,620;950,565 985,570;1115,905 1125,965;1205,975 1235,955;620,1100 625,1135;790,1315 778,1348;490,1320 505,1280;162,1275 167,1305;435,1340 447,1375;235,1510 255,1470;1040,1150 1065,1135;1080,1255 1065,1298;1040,1438 1085,1438',
 tl:'345,618 430,720;435,730 400,820;830,515 920,600;840,645 810,715;1000,795 1110,895;570,510 570,630;1075,1145 1080,1250',
 lt:'555,515 505,720;985,575 1120,675;1180,525 1145,670',
 dg:'655,595 735,735;230,695 360,770;250,780 370,850;215,765 170,815;220,775 225,855;460,910 620,1040;750,1090 960,1115;875,1030 830,1110 800,1185;625,1165 790,1320;1065,705 1120,800;1050,715 925,840;930,850 1100,815;810,860 780,880',
 or:'1020,658 1165,595',
 lig:'172,815 205,905 150,975;205,905 255,968 340,935 295,912 205,905;340,935 350,880 295,912;228,860 300,868 295,912;350,880 440,860 455,798 545,790 610,833 595,890 655,960 745,935 750,905 595,890;610,833 705,820 750,905 850,905 860,873;705,820 718,780 738,745;705,820 790,810 790,770;790,810 860,873 910,855;850,905 885,1008;440,860 505,925 595,890;505,925 495,990 400,1003 340,935;455,798 405,745;505,925 480,990',
 balls:'172,815 150,975 205,905 255,968 340,935 295,912 350,880 228,860 440,860 455,798 545,790 610,833 595,890 655,960 745,935 750,905 705,820 738,745 790,810 860,873 910,855 850,905 885,1008 495,990 400,1003 505,925',
 redB:'403,745 398,833 932,892',blueB:'805,733',
 labels:[['W102',733,968,312],['V124',683,823,463],['T128',1078,1228,522],['E117',233,348,607],['S121',520,640,622],['W125',843,990,600],['S106',388,578,678],['T109',98,265,760],['F156',510,587,987],['R133',1158,1303,890],['A132',1373,1532,900],['F110',150,322,1048],['P134',1095,1228,1015],['L140',720,877,1172],['S141',492,642,1222],['I139',900,1028,1265],['T142',275,430,1368],['P138',1128,1288,1425],['Y118',872,1070,1455]]
});

drawSite('cddo-ea-site-2',2000,3600,1.2468,.6537,{
 gray:'185,270 155,295 190,300 230,450;185,270 178,225;290,235 317,225 345,290 350,345 315,350 290,290 290,235;330,420 305,415;355,515 345,495 365,450;365,565 330,612 275,600;330,612 345,690;365,565 420,590;420,590 440,550;490,570 535,565;545,575 590,490 590,395 635,340 670,395 650,475 615,510 590,490;615,510 605,580 550,570;720,560 700,620 670,670 650,780;600,740 550,790 545,840 510,830;550,840 630,840;640,870 670,950 665,1035 700,1095;665,1035 630,1060;700,1095 675,1160;700,1095 770,1060;500,985 540,950 500,890;500,1060 520,1120 565,1150 580,1200 630,1300 590,1330 568,1275 580,1205;580,1200 620,1215;165,935 125,1035 100,1040 75,1110;125,1065 165,1150 150,1220 155,1270 180,1240 250,1295 240,1260;210,1090 270,985 230,1050 215,1080;270,1045 320,1060 320,1110;340,1150 390,1130 340,1215;355,1020 380,1065;360,1280 365,1410 335,1550 330,1480 360,1300;205,1465 230,1415 305,1445 365,1390;430,1360 490,1270 570,1275;400,1410 415,1475 440,1530 470,1525;400,1410 430,1355;385,1510 410,1475',
 blue:'160,160 185,225;290,370 305,410;355,465 355,515;355,440 365,445;420,590 440,550 480,570;600,550 605,585;745,488 705,565 680,640;545,745 555,820;75,1110 85,1075;130,1100 145,1145;350,1035 372,1060;520,1090 545,1135;605,1210 622,1215 628,1255;155,1240 165,1245;205,1465 225,1440;360,1280 365,1320;385,1510 400,1490;720,1100 760,1060',
 red:'130,305 155,295;225,265 232,295;305,420 330,412;350,525 352,555;380,420 390,450;430,620 445,665;545,580 560,610;500,825 525,835;645,780 660,740;680,830 695,835;630,1060 645,1048;222,975 225,1010;115,980 125,990;120,1035 122,1040;240,1020 235,1050;320,1080 322,1115;355,1005 355,1025;450,1115 455,1105;255,1250 230,1290;150,1245 155,1248;200,1410 205,1460;515,1240 530,1215;460,1527 475,1525',
 tl:'260,305 300,410;305,430 290,560;425,630 490,810;610,590 675,650;690,570 650,780;405,1110 365,1290;555,1155 530,1210;250,1265 205,1385',
 lt:'235,470 305,425;555,640 550,820;570,615 670,690;655,720 650,800;205,1385 255,1260',
 dg:'200,275 280,295;190,295 230,450;285,320 235,450;160,775 163,915;175,940 340,1150;330,830 215,1090;340,700 420,750;405,1140 465,1290;495,1270 560,1280;345,1230 390,1385;510,845 620,840;515,850 555,935;565,935 635,830',
 or:'635,437 705,548',
 lig:'230,460 255,480 255,565;255,565 275,605 270,680;270,680 195,695 200,745 160,760 235,790;270,680 340,712;270,680 235,690;180,835 185,770;255,770 285,760 325,795 367,790 422,750;367,790 380,660;367,790 407,825 448,795 422,750;407,825 470,895 490,945;470,895 420,968 465,970 480,895;330,835 325,795;420,968 410,1050 398,1098;465,970 488,1040;260,720 300,730 280,760 250,770;340,710 300,715 260,720',
 balls:'230,460 270,680 197,695 235,690 160,760 235,790 180,835 200,745 265,720 300,720 340,710 285,760 325,795 330,835 367,790 380,658 422,750 448,795 407,825 470,895 495,943 420,968 465,970',
 redB:'287,572 253,770 488,1040',blueB:'255,565 397,1098',
 labels:[['E117',180,250,237],['S121',328,400,410],['F156',372,430,450],['V124',365,450,558],['W125',488,577,563],['P134',648,716,765],['T128',565,652,830],['R133',640,717,880],['T109',102,175,1035],['S141',337,400,1015],['T142',268,327,1050],['I139',505,562,1057],['L140',410,475,1105],['A132',700,778,1092],['F110',165,233,1145],['P138',583,648,1198],['S106',180,260,1232],['W102',240,348,1408],['Y118',415,482,1465]]
});

drawSite('cddo-ea-site-3',2000,3600,1.2468,.6537,{
 gray:'1195,240 1225,290 1210,355 1220,390 1175,410 1155,350 1195,240;1220,440 1145,640;1300,210 1300,340;1140,620 1170,545;1145,720 1140,665;1110,775 1105,850 1070,930;1145,720 1210,730;1290,495 1265,525 1270,570 1295,600;1305,540 1330,545 1360,575;1365,570 1425,625 1475,620 1480,680;1425,625 1418,690;1305,665 1345,690 1280,800;1345,690 1300,715;900,645 930,612 965,650 930,690 898,665;965,650 1000,620 1020,670;1000,700 985,745;785,820 835,835 815,955;835,835 825,905;835,835 875,785;1010,765 1060,735 1110,780;1405,825 1480,810 1465,880 1420,875 1400,820;1420,770 1480,810;1400,960 1410,1105 1400,1055;1290,1105 1300,1170;1290,1105 1395,1210 1415,1330 1450,1365 1395,1210;1400,1230 1420,1345 1380,1445 1340,1460;1430,1190 1410,1190 1395,1210;1430,1190 1430,1255;1290,1105 1245,1010 1220,1010 1215,1110 1240,1125;1215,1110 1185,1135 1210,1255 1170,1275;1200,1240 1210,1340;1100,1265 1120,1350 1110,1410 1120,1490;1185,1370 1190,1430;1245,1410 1240,1470 1290,1405',
 blue:'1300,210 1303,250;1300,320 1307,375;1220,415 1218,480;1315,540 1335,530;1382,570 1405,565 1415,595;1480,540 1480,590;1135,660 1145,690;1060,732 1085,758;1000,680 1005,675;785,820 805,825;1345,843 1375,843 1395,820;1420,770 1450,790;1180,1390 1225,1400;1115,1450 1120,1490;1240,1430 1245,1465;1385,1458 1390,1495;1430,1225 1430,1255;1160,1215 1200,1200;1310,960 1315,930',
 red:'1040,665 1058,665;1035,735 1055,738;1295,400 1300,410;1360,470 1372,480;1360,520 1365,545;1208,540 1228,538;1418,650 1418,690;1165,725 1185,725;1280,725 1290,715;870,780 895,790;840,860 830,905;815,935 822,955;985,740 990,730;1320,850 1325,910;1245,980 1255,1000;1190,990 1200,990;1135,1195 1145,1210;1230,1115 1240,1125;1115,1345 1125,1370;1300,1305 1300,1340;1195,1430 1205,1440;1340,1460 1352,1468;1485,1145 1488,1170;1410,895 1410,955;1395,815 1405,830',
 tl:'895,785 975,765;985,770 1025,870;1165,720 1275,748;1230,440 1295,398;1305,370 1355,510;1405,820 1412,885;1315,1040 1395,1210;1305,1320 1330,1445',
 lt:'1240,525 1305,440;1240,550 1295,660',
 dg:'885,685 850,780;930,715 940,880;850,845 935,885;1335,565 1285,700;1338,580 1345,725;1290,718 1345,716;1160,985 1170,1110;1035,1175 1095,1250;1110,1255 1285,1115;1215,1250 1290,1175;1310,1130 1385,1200;1320,1030 1400,1025;1410,970 1465,885',
 or:'1198,322 1290,298',
 lig:'940,890 975,850 1003,905;1003,905 1028,880 1060,960;1060,960 1025,1075 1050,1110 1085,1075 1060,960;1050,1110 1035,1160;1050,1110 1065,1175;1060,960 1105,875 1150,965 1095,1040;1105,875 1150,830 1190,785;1060,960 1070,1030;1150,965 1210,850;1120,795 1135,870;1150,830 1208,850 1275,795 1335,860 1275,915 1235,915 1205,850;1275,795 1275,715;1275,915 1313,1023;1190,785 1225,810 1208,850',
 balls:'940,890 975,850 1060,960 1025,1075 1050,1110 1085,1075 1035,1160 1065,1175 1105,875 1150,965 1150,830 1190,785 1210,770 1120,795 1210,850 1275,795 1275,915 1235,915 1295,795 1275,715 1040,1020 1075,1030',
 redB:'1027,880 1097,1040 1335,860',blueB:'1003,905 1313,1023',
 labels:[['P134',1310,1372,485],['R133',1362,1430,568],['A132',1475,1547,612],['W125',1168,1250,598],['T128',1332,1410,665],['F156',1015,1072,665],['S121',1003,1072,727],['V124',1105,1187,770],['P138',1420,1477,810],['I139',1330,1380,838],['E117',830,897,825],['140',1315,1360,1003],['S141',1217,1275,1045],['T142',1187,1240,1165],['Y118',1432,1492,1190],['F110',1180,1243,1372],['T109',1110,1178,1403],['S106',1250,1323,1402],['W102',1378,1475,1412]]
});
</script>
</body>
</html>
